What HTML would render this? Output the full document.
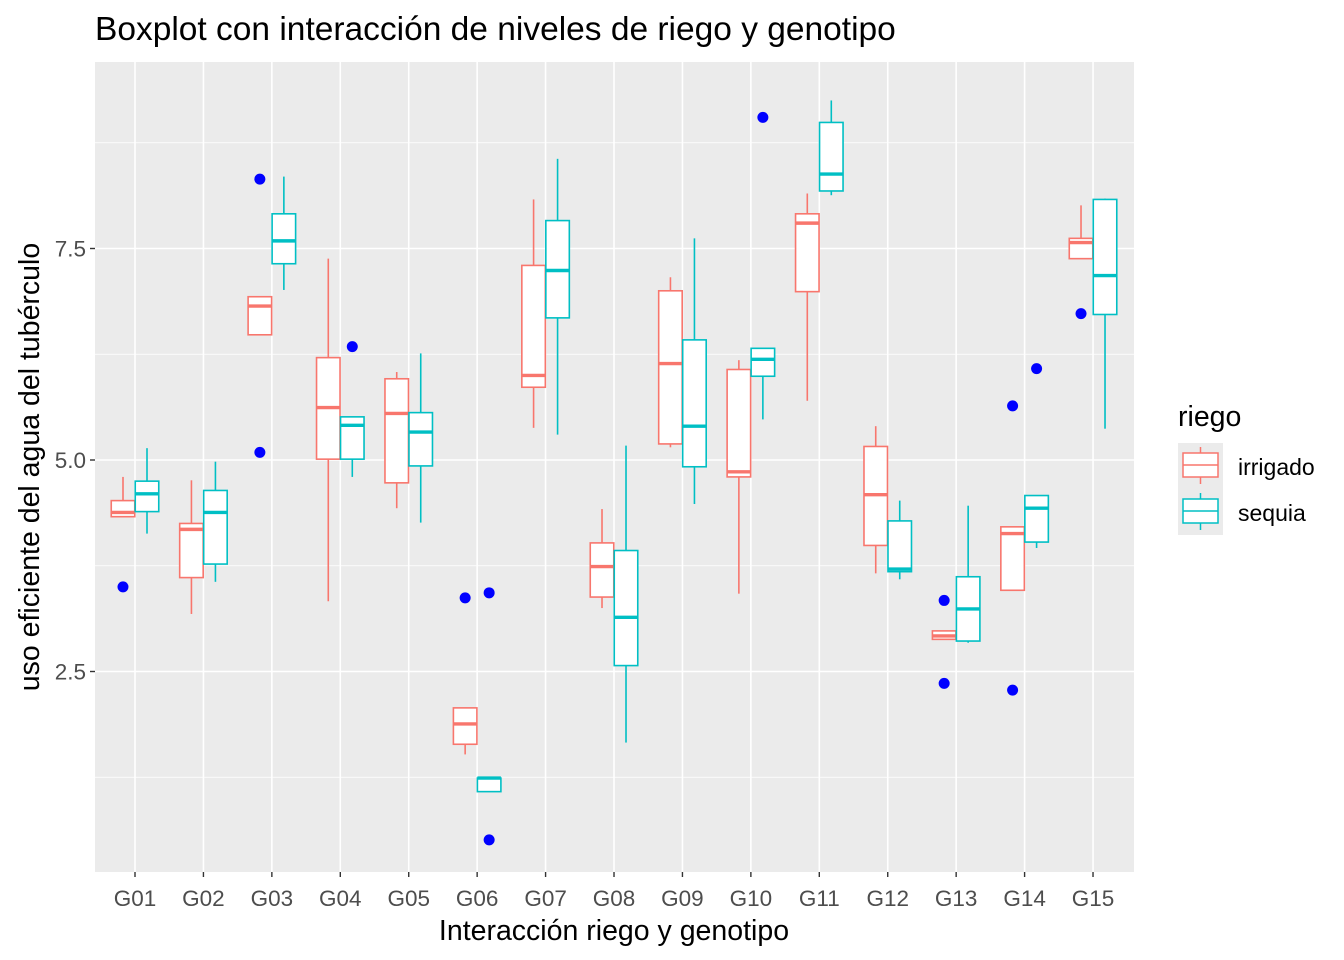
<!DOCTYPE html>
<html><head><meta charset="utf-8"><style>
body{margin:0;background:#fff;}
svg{display:block;font-family:"Liberation Sans",Arial,sans-serif;}
</style></head><body>
<svg id="chart" width="1344" height="960" viewBox="0 0 1344 960">
<rect x="0" y="0" width="1344" height="960" fill="#fff"/>
<text x="95" y="40" font-size="33.5" fill="#000">Boxplot con interacción de niveles de riego y genotipo</text>
<rect x="95" y="62" width="1039" height="810" fill="#ebebeb"/>
<g id="grid"></g>
<g id="marks"></g>
<g id="axes"></g>
<text x="614" y="940" font-size="28.5" text-anchor="middle" fill="#000">Interacción riego y genotipo</text>
<text transform="translate(39,467) rotate(-90)" font-size="28.5" text-anchor="middle" fill="#000">uso eficiente del agua del tubérculo</text>
<g>
<text x="1178" y="426" font-size="28.5" fill="#000">riego</text>
<rect x="1178" y="443" width="45" height="92" fill="#ebebeb"/>
<g>
<line x1="1200.5" y1="447" x2="1200.5" y2="484" stroke="#F8766D" stroke-width="1.5"/>
<rect x="1183" y="453" width="35" height="24" fill="#fff" stroke="#F8766D" stroke-width="1.5"/>
<line x1="1183" y1="465" x2="1218" y2="465" stroke="#F8766D" stroke-width="1.5"/>
<text x="1238" y="475" font-size="23" fill="#000">irrigado</text>
</g>
<g>
<line x1="1200.5" y1="493" x2="1200.5" y2="530" stroke="#00BFC4" stroke-width="1.5"/>
<rect x="1183" y="499" width="35" height="24" fill="#fff" stroke="#00BFC4" stroke-width="1.5"/>
<line x1="1183" y1="511" x2="1218" y2="511" stroke="#00BFC4" stroke-width="1.5"/>
<text x="1238" y="521" font-size="23" fill="#000">sequia</text>
</g>
</g>
</svg>
<script>
const categories = ["G01","G02","G03","G04","G05","G06","G07","G08","G09","G10","G11","G12","G13","G14","G15"];
const yTicks = [2.5, 5.0, 7.5];
const yTickLabels = ["2.5","5.0","7.5"];
// [low whisker, q1, median, q3, high whisker]
const irrigadoStats = [
 [4.33,4.33,4.38,4.52,4.80],[3.18,3.61,4.18,4.25,4.76],[6.48,6.48,6.82,6.93,6.93],
 [3.33,5.01,5.62,6.21,7.38],[4.43,4.73,5.55,5.96,6.04],[1.52,1.64,1.88,2.07,2.07],
 [5.38,5.86,6.00,7.30,8.08],[3.25,3.38,3.74,4.02,4.42],[5.15,5.19,6.14,7.00,7.16],
 [3.42,4.80,4.86,6.07,6.18],[5.70,6.99,7.80,7.91,8.15],[3.66,3.99,4.59,5.16,5.40],
 [2.88,2.88,2.92,2.98,2.98],[3.46,3.46,4.13,4.21,4.21],[7.38,7.38,7.57,7.62,8.01]
];
const sequiaStats = [
 [4.13,4.39,4.60,4.75,5.14],[3.56,3.77,4.38,4.64,4.98],[7.01,7.32,7.59,7.91,8.35],
 [4.80,5.01,5.41,5.51,5.51],[4.26,4.93,5.33,5.56,6.26],[1.08,1.08,1.24,1.24,1.24],
 [5.30,6.68,7.24,7.83,8.56],[1.66,2.57,3.14,3.93,5.17],[4.48,4.92,5.40,6.42,7.62],
 [5.48,5.99,6.19,6.32,6.32],[8.13,8.18,8.38,8.99,9.25],[3.59,3.68,3.71,4.28,4.52],
 [2.84,2.86,3.24,3.62,4.46],[3.96,4.03,4.43,4.58,4.58],[5.37,6.72,7.18,8.08,8.09]
];
const irrigadoOutliers = [[3.50],[],[8.32,5.09],[],[],[3.37],[],[],[],[],[],[],[3.34,2.36],[5.64,2.28],[6.73]];
const sequiaOutliers = [[],[],[],[6.34],[],[3.43,0.51],[],[],[],[9.05],[],[],[],[6.08],[]];

const NS="http://www.w3.org/2000/svg";
const px0=95, px1=1134, py0=62, py1=872;
function yScale(v){ return 460 - (v-5)*84.6; }
function xScale(i){ return 135 + i*68.43; }
function mk(tag, attrs, parent){ const e=document.createElementNS(NS,tag); for(const k in attrs) e.setAttribute(k,attrs[k]); parent.appendChild(e); return e; }
const grid=document.getElementById('grid'), marks=document.getElementById('marks'), axes=document.getElementById('axes');
for(let t=0;t<yTicks.length;t++){
  const m = yTicks[t]-1.25;
  const gl=mk('line',{x1:px0,x2:px1,y1:yScale(m),y2:yScale(m),stroke:'#fff','stroke-width':0.8},grid);
  
  
}
{ const m=yTicks[yTicks.length-1]+1.25;
  const gl=mk('line',{x1:px0,x2:px1,y1:yScale(m),y2:yScale(m),stroke:'#fff','stroke-width':0.8},grid);
  
   }
for(let t=0;t<yTicks.length;t++){
  const y=yScale(yTicks[t]);
  const gl=mk('line',{x1:px0,x2:px1,y1:y,y2:y,stroke:'#fff','stroke-width':1.6},grid);
  
  
  const tk=mk('line',{x1:90,x2:95,y1:y,y2:y,stroke:'#333','stroke-width':1.4},axes);
  
  
  const tl=mk('text',{x:86,y:y+8,'font-size':22.5,'text-anchor':'end',fill:'#4d4d4d'},axes);
  tl.textContent=yTickLabels[t];
  
  
}
for(let i=0;i<categories.length;i++){
  const x=xScale(i);
  const gl=mk('line',{x1:x,x2:x,y1:py0,y2:py1,stroke:'#fff','stroke-width':1.6},grid);
  
  
  const tk=mk('line',{x1:x,x2:x,y1:872,y2:877,stroke:'#333','stroke-width':1.4},axes);
  
  
  const tl=mk('text',{x:x,y:906,'font-size':22.5,'text-anchor':'middle',fill:'#4d4d4d'},axes);
  tl.textContent=categories[i];
  
  
}
function drawBox(i, s, outl, off, color, series){
  const cx=xScale(i)+off, w=23.5;
  const g=mk('g',{},marks);
  
  
  mk('line',{x1:cx,x2:cx,y1:yScale(s[4]),y2:yScale(s[3]),stroke:color,'stroke-width':1.6},g);
  mk('line',{x1:cx,x2:cx,y1:yScale(s[1]),y2:yScale(s[0]),stroke:color,'stroke-width':1.6},g);
  mk('rect',{x:cx-w/2,y:yScale(s[3]),width:w,height:Math.max(0.5,yScale(s[1])-yScale(s[3])),fill:'#fff',stroke:color,'stroke-width':1.6},g);
  mk('line',{x1:cx-w/2,x2:cx+w/2,y1:yScale(s[2]),y2:yScale(s[2]),stroke:color,'stroke-width':3.4},g);
  for(const o of outl){
    const c=mk('circle',{cx:cx,cy:yScale(o),r:5.5,fill:'#0000ff'},marks);
    
    
  }
}
for(let i=0;i<categories.length;i++){
  drawBox(i, irrigadoStats[i], irrigadoOutliers[i], -12, '#F8766D', 'irrigado');
  drawBox(i, sequiaStats[i], sequiaOutliers[i], 12, '#00BFC4', 'sequia');
}
</script>
</body></html>
